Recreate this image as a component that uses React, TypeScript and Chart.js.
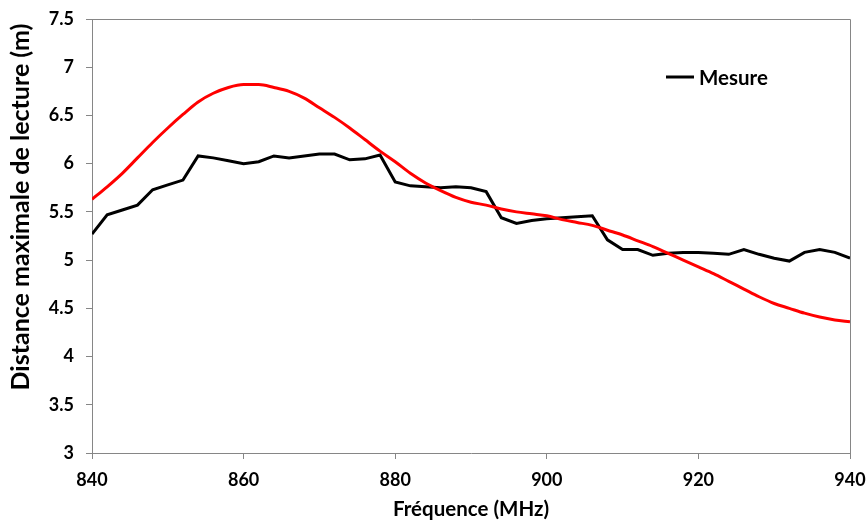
import React, { useEffect, useRef } from "react";
import { Chart, registerables } from "chart.js";

Chart.register(...registerables);

// Frequency sweep, 2 MHz step
const frequencies: number[] = [
  840, 842, 844, 846, 848, 850, 852, 854, 856, 858,
  860, 862, 864, 866, 868, 870, 872, 874, 876, 878,
  880, 882, 884, 886, 888, 890, 892, 894, 896, 898,
  900, 902, 904, 906, 908, 910, 912, 914, 916, 918,
  920, 922, 924, 926, 928, 930, 932, 934, 936, 938, 940,
];

// Measured maximum read distance (m)
const mesure: number[] = [
  5.27, 5.47, 5.52, 5.57, 5.73, 5.78, 5.83, 6.08, 6.06, 6.03,
  6.0, 6.02, 6.08, 6.06, 6.08, 6.1, 6.1, 6.04, 6.05, 6.09,
  5.81, 5.77, 5.76, 5.75, 5.76, 5.75, 5.71, 5.44, 5.38, 5.41,
  5.43, 5.44, 5.45, 5.46, 5.21, 5.11, 5.11, 5.05, 5.07, 5.08,
  5.08, 5.07, 5.06, 5.11, 5.06, 5.02, 4.99, 5.08, 5.11, 5.08, 5.02,
];

// Computed maximum read distance (m)
const theorie: number[] = [
  5.63, 5.76, 5.9, 6.06, 6.22, 6.37, 6.51, 6.64, 6.73, 6.79,
  6.82, 6.82, 6.79, 6.75, 6.68, 6.58, 6.48, 6.37, 6.25, 6.13,
  6.02, 5.9, 5.8, 5.72, 5.65, 5.6, 5.57, 5.53, 5.5, 5.48,
  5.46, 5.42, 5.39, 5.36, 5.31, 5.26, 5.2, 5.14, 5.07, 5.0,
  4.93, 4.86, 4.78, 4.7, 4.62, 4.55, 4.5, 4.45, 4.41, 4.38, 4.36,
];

const xTitle = "Fréquence (MHz)";
const yTitle = "Distance maximale de lecture (m)";
const legendLabel = "Mesure";

const FONT = "Lato, 'Open Sans', sans-serif";
const AXIS_GREY = "#868686";

export default function App() {
  const canvasRef = useRef<HTMLCanvasElement | null>(null);

  useEffect(() => {
    document.body.style.margin = "0";
    const canvas = canvasRef.current;
    if (!canvas) return;

    // Frame on top/right, rotated y title and the inline legend
    const decorations = {
      id: "decorations",
      afterDraw(chart: any) {
        const { ctx, chartArea } = chart;
        ctx.save();
        ctx.strokeStyle = AXIS_GREY;
        ctx.lineWidth = 1;
        ctx.beginPath();
        ctx.moveTo(chartArea.left, chartArea.top + 0.5);
        ctx.lineTo(chartArea.right + 0.5, chartArea.top + 0.5);
        ctx.lineTo(chartArea.right + 0.5, chartArea.bottom);
        ctx.stroke();

        ctx.fillStyle = "#000";
        ctx.font = `bold 25px ${FONT}`;
        ctx.textAlign = "center";
        ctx.textBaseline = "middle";
        ctx.translate(21, 207);
        ctx.rotate(-Math.PI / 2);
        ctx.fillText(yTitle, 0, 0);
        ctx.restore();

        ctx.save();
        ctx.strokeStyle = "#000";
        ctx.lineWidth = 3;
        ctx.beginPath();
        ctx.moveTo(666, 77);
        ctx.lineTo(694, 77);
        ctx.stroke();
        ctx.fillStyle = "#000";
        ctx.font = `bold 20.5px ${FONT}`;
        ctx.textAlign = "left";
        ctx.textBaseline = "middle";
        ctx.fillText(legendLabel, 699, 78);
        ctx.restore();
      },
    };

    const chart = new Chart(canvas, {
      type: "line",
      data: {
        labels: frequencies,
        datasets: [
          {
            label: "Théorie",
            data: frequencies.map((f, i) => ({ x: f, y: theorie[i] })),
            borderColor: "#ff0000",
            borderWidth: 3,
            pointRadius: 0,
            cubicInterpolationMode: "monotone",
          },
          {
            label: legendLabel,
            data: frequencies.map((f, i) => ({ x: f, y: mesure[i] })),
            borderColor: "#000000",
            borderWidth: 3,
            pointRadius: 0,
            tension: 0,
          },
        ],
      },
      options: {
        responsive: false,
        animation: false,
        layout: { padding: { top: 19, right: 16, left: 0, bottom: 0 } },
        plugins: {
          legend: { display: false },
          tooltip: { enabled: false },
        },
        scales: {
          x: {
            type: "linear",
            min: 840,
            max: 940,
            afterFit: (scale: any) => {
              scale.height = 69;
              scale.paddingLeft = 0;
              scale.paddingRight = 0;
            },
            ticks: {
              stepSize: 20,
              color: "#000",
              padding: 10,
              font: { family: FONT, size: 18, weight: "bold" },
            },
            grid: {
              drawOnChartArea: false,
              drawTicks: true,
              tickLength: 6,
              color: AXIS_GREY,
            },
            border: { color: AXIS_GREY, width: 1 },
            title: {
              display: true,
              text: xTitle,
              color: "#000",
              padding: { top: 0, bottom: 0 },
              font: { family: FONT, size: 20.5, weight: "bold" },
            },
          },
          y: {
            min: 3,
            max: 7.5,
            afterFit: (scale: any) => {
              scale.width = 92;
              scale.paddingTop = 0;
              scale.paddingBottom = 0;
            },
            ticks: {
              stepSize: 0.5,
              color: "#000",
              padding: 12,
              font: { family: FONT, size: 18, weight: "bold" },
              callback: (v: any) => String(Math.round(Number(v) * 10) / 10),
            },
            grid: {
              drawOnChartArea: false,
              drawTicks: true,
              tickLength: 6,
              color: AXIS_GREY,
            },
            border: { color: AXIS_GREY, width: 1 },
          },
        },
      },
      plugins: [decorations],
    });

    return () => chart.destroy();
  }, []);

  return (
    <div style={{ width: 866, height: 522 }}>
      <canvas ref={canvasRef} width={866} height={522} />
    </div>
  );
}
